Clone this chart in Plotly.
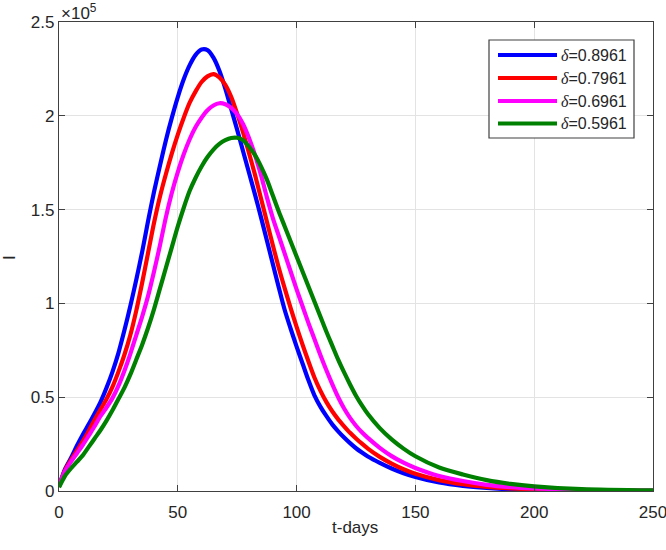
import plotly.graph_objects as go

# Data (I in units of 1e5, t in days)
deltas = ["0.8961", "0.7961", "0.6961", "0.5961"]
colors = ["#0000ff", "#ff0000", "#ff00ff", "#008000"]

t_days = [0, 2.5, 5, 7.5, 10, 12.5, 15, 17.5, 20, 22.5, 25, 27.5, 30, 32.5, 35, 37.5, 40, 42.5, 45, 47.5,
          50, 52.5, 55, 57.5, 60, 62.5, 65, 67.5, 70, 72.5, 75, 77.5, 80, 82.5, 85, 87.5, 90, 92.5, 95, 97.5,
          100, 102.5, 105, 107.5, 110, 112.5, 115, 117.5, 120, 122.5, 125, 127.5, 130, 135, 140, 145, 150,
          160, 170, 180, 190, 200, 220, 250]

i_blue = [0.025, 0.115, 0.175, 0.24, 0.3, 0.355, 0.413, 0.475, 0.55, 0.635, 0.735, 0.855, 0.985, 1.125, 1.275, 1.44, 1.595, 1.735, 1.87, 1.99,
          2.1, 2.195, 2.27, 2.325, 2.353, 2.35, 2.31, 2.24, 2.145, 2.035, 1.925, 1.81, 1.695, 1.58, 1.46, 1.335, 1.21, 1.085, 0.965, 0.865,
          0.77, 0.68, 0.59, 0.51, 0.45, 0.4, 0.355, 0.318, 0.285, 0.255, 0.228, 0.205, 0.184, 0.15, 0.12, 0.095, 0.075,
          0.045, 0.027, 0.016, 0.009, 0.005, 0.002, 0.0005]

i_red = [0.025, 0.11, 0.165, 0.215, 0.265, 0.32, 0.38, 0.435, 0.49, 0.555, 0.635, 0.725, 0.83, 0.96, 1.11, 1.27, 1.43, 1.57, 1.69, 1.8,
         1.9, 1.99, 2.07, 2.13, 2.18, 2.21, 2.222, 2.205, 2.165, 2.1, 2.01, 1.91, 1.8, 1.685, 1.56, 1.435, 1.31, 1.19, 1.08, 0.975,
         0.875, 0.78, 0.69, 0.605, 0.535, 0.475, 0.425, 0.382, 0.345, 0.31, 0.28, 0.252, 0.226, 0.182, 0.146, 0.116, 0.092,
         0.058, 0.036, 0.022, 0.014, 0.009, 0.004, 0.001]

i_mag = [0.025, 0.105, 0.155, 0.2, 0.245, 0.295, 0.345, 0.4, 0.445, 0.495, 0.56, 0.64, 0.73, 0.83, 0.93, 1.04, 1.17, 1.31, 1.46, 1.59,
         1.7, 1.795, 1.875, 1.94, 1.99, 2.03, 2.055, 2.067, 2.062, 2.042, 2.008, 1.955, 1.88, 1.79, 1.685, 1.565, 1.455, 1.36, 1.265, 1.17,
         1.075, 0.985, 0.895, 0.81, 0.725, 0.645, 0.57, 0.5, 0.44, 0.39, 0.348, 0.313, 0.283, 0.23, 0.186, 0.151, 0.123,
         0.08, 0.053, 0.033, 0.021, 0.014, 0.006, 0.002]

i_grn = [0.02, 0.08, 0.12, 0.155, 0.19, 0.235, 0.28, 0.325, 0.375, 0.43, 0.49, 0.55, 0.62, 0.7, 0.78, 0.87, 0.97, 1.08, 1.19, 1.3,
         1.41, 1.51, 1.6, 1.67, 1.73, 1.78, 1.82, 1.85, 1.87, 1.882, 1.883, 1.87, 1.835, 1.79, 1.73, 1.66, 1.575, 1.49, 1.41, 1.33,
         1.25, 1.17, 1.09, 1.01, 0.93, 0.85, 0.775, 0.7, 0.632, 0.568, 0.508, 0.456, 0.41, 0.335, 0.275, 0.226, 0.185,
         0.125, 0.088, 0.058, 0.038, 0.025, 0.01, 0.003]

series_i = [i_blue, i_red, i_mag, i_grn]

x_ticks = [0, 50, 100, 150, 200, 250]
y_ticks = [0, 0.5, 1, 1.5, 2, 2.5]
y_ticktext = ["0", "0.5", "1", "1.5", "2", "2.5"]

AX = "#262626"
FONT = "Liberation Sans, Arial, sans-serif"

fig = go.Figure()
for i, c, d in zip(series_i, colors, deltas):
    fig.add_trace(go.Scatter(
        x=t_days, y=i, mode="lines", name="δ=" + d,
        line=dict(color=c, width=4.2, shape="spline", smoothing=0.8),
        showlegend=False, hoverinfo="skip",
    ))

axis_common = dict(
    showline=True, linecolor="#404040", linewidth=1.2, mirror="ticks",
    ticks="inside", ticklen=6, tickcolor="#404040", tickwidth=1.1,
    showgrid=True, gridcolor="#e3e3e3", gridwidth=1,
    zeroline=False, automargin=False, ticklabeloverflow="allow",
    tickfont=dict(family=FONT, size=17, color=AX),
)

fig.update_xaxes(range=[0, 250], tickvals=x_ticks, ticklabelstandoff=5, **axis_common)
fig.update_yaxes(range=[0, 2.5], tickvals=y_ticks, ticktext=y_ticktext, **axis_common)

W, H = 666, 550
PW, PH, L, T = 594, 469, 59, 22

def px(xp):
    return (xp - L) / PW

def py(yp):
    return (T + PH - yp) / PH

# Legend box drawn in MATLAB style
shapes = [dict(type="rect", xref="paper", yref="paper", x0=px(489), x1=px(634), y0=py(138), y1=py(40),
               line=dict(color="#404040", width=1.2), fillcolor="white", layer="above")]
annotations = []
rows_px = [55, 78, 101, 123.5]
for c, d, rp in zip(colors, deltas, rows_px):
    shapes.append(dict(type="line", xref="paper", yref="paper",
                       x0=px(498), x1=px(557), y0=py(rp), y1=py(rp),
                       line=dict(color=c, width=4.2), layer="above"))
    annotations.append(dict(xref="paper", yref="paper", x=px(559), y=py(rp),
                            xanchor="left", yanchor="middle", showarrow=False,
                            text="<span style='font-family:Liberation Serif'><i>δ</i></span>=" + d,
                            font=dict(family=FONT, size=16, color=AX)))

annotations.append(dict(xref="paper", yref="paper", x=0, y=1, xanchor="left", yanchor="bottom",
                        yshift=-3, showarrow=False, text="×10<sup>5</sup>",
                        font=dict(family=FONT, size=17, color=AX)))
annotations.append(dict(xref="paper", yref="paper", x=px(355), y=py(527), xanchor="center",
                        yanchor="middle", showarrow=False, text="t-days",
                        font=dict(family=FONT, size=17, color=AX)))
annotations.append(dict(xref="paper", yref="paper", x=px(9), y=py(258), xanchor="center",
                        yanchor="middle", showarrow=False, text="I", textangle=-90,
                        font=dict(family=FONT, size=17, color=AX)))

fig.update_layout(
    width=W, height=H,
    margin=dict(l=L, r=W - L - PW, t=T, b=H - T - PH),
    paper_bgcolor="white", plot_bgcolor="white",
    shapes=shapes, annotations=annotations,
    showlegend=False, hovermode=False,
)

# remove the browser's default 8px body margin so the figure fills the 666x550 window
fig.write_html("out.html", config={"displayModeBar": False},
               post_script="document.body.style.margin='0';document.body.style.overflow='hidden';")
